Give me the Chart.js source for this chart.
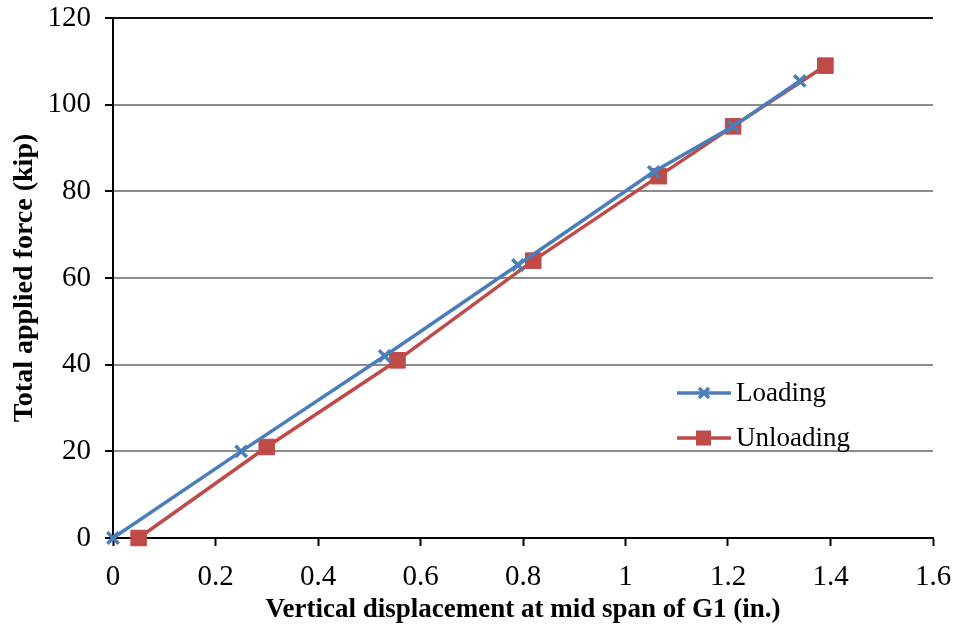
<!DOCTYPE html>
<html>
<head>
<meta charset="utf-8">
<title>Load vs displacement</title>
<script src="https://cdn.jsdelivr.net/npm/chart.js@4/dist/chart.umd.min.js"></script>
<style>
  html, body { margin: 0; padding: 0; background: #fff; }
  #wrap { width: 959px; height: 630px; position: relative; }
</style>
</head>
<body>
<div id="wrap"><canvas id="loadChart"></canvas></div>
<script>
// displacement (in.) and total force (kip) for each load step
const loadingDisp = [0, 0.25, 0.53, 0.79, 1.055, 1.21, 1.34];
const loadingForce = [0, 20, 42, 63, 84.5, 95, 105.5];
const unloadingDisp = [0.05, 0.30, 0.555, 0.82, 1.065, 1.21, 1.39];
const unloadingForce = [0, 21, 41, 64, 83.5, 95, 109];

const seriesNames = ['Loading', 'Unloading'];
const xTicks = [0, 0.2, 0.4, 0.6, 0.8, 1, 1.2, 1.4, 1.6];
const yTicks = [0, 20, 40, 60, 80, 100, 120];

const blue = '#4A7EBB';
const red = '#BE4B48';
const serif = '"Liberation Serif", "Times New Roman", serif';

function toPoints(xs, ys) {
  return xs.map((x, i) => ({ x: x, y: ys[i] }));
}

// legend box inside the plot, drawn by hand
const inlineLegend = {
  id: 'inlineLegend',
  afterDraw(chart) {
    const ctx = chart.ctx;
    const items = [
      { label: seriesNames[0], color: blue, style: 'crossRot' },
      { label: seriesNames[1], color: red, style: 'rect' }
    ];
    ctx.save();
    items.forEach((item, i) => {
      const y = 393 + i * 45;
      ctx.strokeStyle = item.color;
      ctx.lineWidth = 3.5;
      ctx.beginPath();
      ctx.moveTo(677, y);
      ctx.lineTo(731, y);
      ctx.stroke();
      if (item.style === 'rect') {
        ctx.fillStyle = item.color;
        ctx.fillRect(696, y - 7.5, 15, 15);
      } else {
        ctx.lineWidth = 3.5;
        ctx.beginPath();
        ctx.moveTo(699, y - 5); ctx.lineTo(709, y + 5);
        ctx.moveTo(709, y - 5); ctx.lineTo(699, y + 5);
        ctx.stroke();
      }
      ctx.fillStyle = '#000';
      ctx.font = '27px ' + serif;
      ctx.textBaseline = 'middle';
      ctx.fillText(item.label, 736, y + 1);
    });
    ctx.restore();
  }
};

const ctx = document.getElementById('loadChart').getContext('2d');
new Chart(ctx, {
  type: 'scatter',
  data: {
    datasets: [
      {
        label: seriesNames[0],
        data: toPoints(loadingDisp, loadingForce),
        showLine: true,
        clip: false,
        borderColor: blue,
        backgroundColor: blue,
        borderWidth: 3.5,
        pointStyle: 'crossRot',
        pointRadius: 8,
        pointBorderWidth: 3.5,
        pointBorderColor: blue
      },
      {
        label: seriesNames[1],
        data: toPoints(unloadingDisp, unloadingForce),
        showLine: true,
        clip: false,
        borderColor: red,
        backgroundColor: red,
        borderWidth: 3.5,
        pointStyle: 'rect',
        pointRadius: 11,
        pointBorderWidth: 1,
        pointBorderColor: red
      }
    ]
  },
  options: {
    responsive: true,
    maintainAspectRatio: false,
    animation: false,
    layout: { padding: { top: 18, right: 26, left: 0, bottom: 0 } },
    plugins: {
      legend: { display: false },
      tooltip: { enabled: false }
    },
    scales: {
      x: {
        type: 'linear',
        min: 0,
        max: 1.6,
        afterFit: (scale) => {
          scale.height = 92;
          scale.paddingLeft = 0;
          scale.paddingRight = 0;
        },
        afterBuildTicks: (scale) => { scale.ticks = xTicks.map(v => ({ value: v })); },
        ticks: {
          font: { family: serif, size: 29 },
          color: '#000',
          padding: 14,
          maxRotation: 0,
          callback: (v) => String(v)
        },
        grid: {
          drawOnChartArea: false,
          tickLength: 8,
          tickColor: '#000',
          tickWidth: 2
        },
        border: { color: '#000', width: 2 },
        title: {
          display: true,
          text: 'Vertical displacement at mid span of G1 (in.)',
          font: { family: serif, size: 27, weight: 'bold' },
          color: '#000',
          padding: { top: 0, bottom: 4 }
        }
      },
      y: {
        type: 'linear',
        min: 0,
        max: 120,
        afterFit: (scale) => {
          scale.width = 113;
          scale.paddingTop = 0;
          scale.paddingBottom = 0;
        },
        afterBuildTicks: (scale) => { scale.ticks = yTicks.map(v => ({ value: v })); },
        ticks: {
          font: { family: serif, size: 29 },
          color: '#000',
          padding: 14
        },
        grid: {
          color: (c) => (c.tick && c.tick.value === 120 ? '#111' : '#8c8c8c'),
          lineWidth: 2,
          tickLength: 8,
          tickColor: '#000',
          tickWidth: 2
        },
        border: { color: '#000', width: 2 },
        title: {
          display: true,
          text: 'Total applied force (kip)',
          font: { family: serif, size: 28, weight: 'bold' },
          color: '#000',
          padding: { top: 8, bottom: 4 }
        }
      }
    }
  },
  plugins: [inlineLegend]
});
</script>
</body>
</html>
